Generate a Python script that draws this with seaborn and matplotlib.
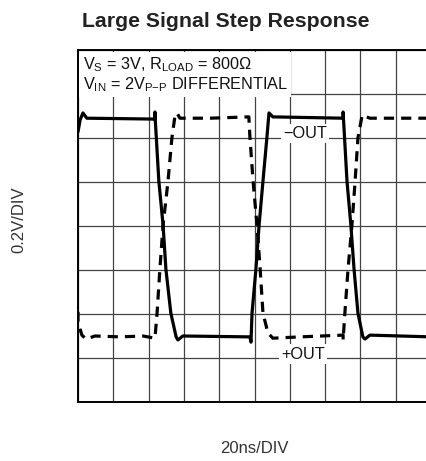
import matplotlib
matplotlib.use("Agg")
import matplotlib.pyplot as plt
import seaborn as sns

# waveforms (x in time divisions, y in voltage divisions)
neg_x = [0.00, 0.06, 0.14, 0.25, 2.18, 2.18, 2.19, 2.29, 2.41, 2.49, 2.63, 2.78, 2.83, 2.97,
         4.87, 4.90, 4.93, 5.04, 5.13, 5.24, 5.35, 5.41, 5.52,
         7.51, 7.51, 7.62, 7.73, 7.82, 7.93, 8.07, 8.13, 8.27, 10.0]
neg_y = [6.14, 6.41, 6.57, 6.45, 6.43, 6.59, 6.40, 5.02, 4.02, 3.02, 2.02, 1.48, 1.41, 1.50,
         1.48, 1.36, 2.02, 3.02, 4.02, 5.02, 6.00, 6.57, 6.48,
         6.45, 6.59, 5.02, 4.02, 3.02, 2.02, 1.48, 1.43, 1.52, 1.48]

pos_x = [0.00, 0.00, 0.11, 0.23, 0.48, 1.19, 1.84, 2.18, 2.24, 2.32, 2.41, 2.55, 2.66, 2.75,
         2.80, 2.89, 3.74, 4.84, 4.87, 4.96, 5.07, 5.16, 5.24, 5.38, 5.52, 6.29,
         7.51, 7.51, 7.56, 7.65, 7.76, 7.85, 7.93, 8.05, 8.27, 10.0]
pos_y = [2.05, 1.82, 1.52, 1.43, 1.50, 1.48, 1.50, 1.45, 2.02, 3.02, 4.02, 5.02, 6.00, 6.52,
         6.57, 6.45, 6.45, 6.48, 6.02, 5.02, 4.02, 3.02, 2.02, 1.57, 1.45, 1.48,
         1.52, 1.41, 2.02, 3.02, 4.02, 5.02, 6.00, 6.52, 6.45, 6.45]

sns.set_style("white")
plt.rcParams['font.family'] = ['Liberation Sans', 'DejaVu Sans']
plt.rcParams['mathtext.default'] = 'regular'

fig = plt.figure(figsize=(4.27, 4.61), dpi=100)
ax = fig.add_axes([78/427, 1-402/461, 353/427, 352/461])

sns.lineplot(x=neg_x, y=neg_y, ax=ax, estimator=None, sort=False,
             color='black', lw=2.3)
sns.lineplot(x=pos_x, y=pos_y, ax=ax, estimator=None, sort=False,
             color='black', lw=2.3, linestyle=(0, (3.2, 2.2)))

ax.set_xlim(0, 10)
ax.set_ylim(0, 8)
ax.set_xticks(range(11))
ax.set_yticks(range(9))
ax.grid(True, color='#444444', lw=0.9)
ax.set_axisbelow(True)
ax.tick_params(length=0, labelbottom=False, labelleft=False)
for s in ax.spines.values():
    s.set_color('black')
    s.set_linewidth(1.4)

ax.text(0.013, 0.984,
        r'$V_S$ = 3V, $R_{LOAD}$ = 800Ω' + '\n' +
        r'$V_{IN}$ = 2$V_{P{-}P}$ DIFFERENTIAL',
        transform=ax.transAxes, va='top', ha='left', fontsize=11.7, color='#111111',
        linespacing=1.05, zorder=2.2,
        bbox=dict(fc='white', ec='none', pad=2.5))
ax.text(6.43, 6.11, '−OUT', ha='center', va='center', fontsize=11.7, color='#111111',
        zorder=2.2, bbox=dict(fc='white', ec='none', pad=1.5))
ax.text(6.37, 1.09, '+OUT', ha='center', va='center', fontsize=11.7, color='#111111',
        zorder=2.2, bbox=dict(fc='white', ec='none', pad=1.5))

fig.text(82/427, 1-27/461, 'Large Signal Step Response', fontsize=15.3,
         fontweight='bold', va='baseline', ha='left', color='#222222')
fig.text(19/427, 1-220/461, '0.2V/DIV', rotation=90, ha='center', va='center',
         fontsize=12, color='#333333')
fig.text(254/427, 1-448/461, '20ns/DIV', ha='center', va='center',
         fontsize=12, color='#333333')

fig.savefig('out.png', dpi=100)
